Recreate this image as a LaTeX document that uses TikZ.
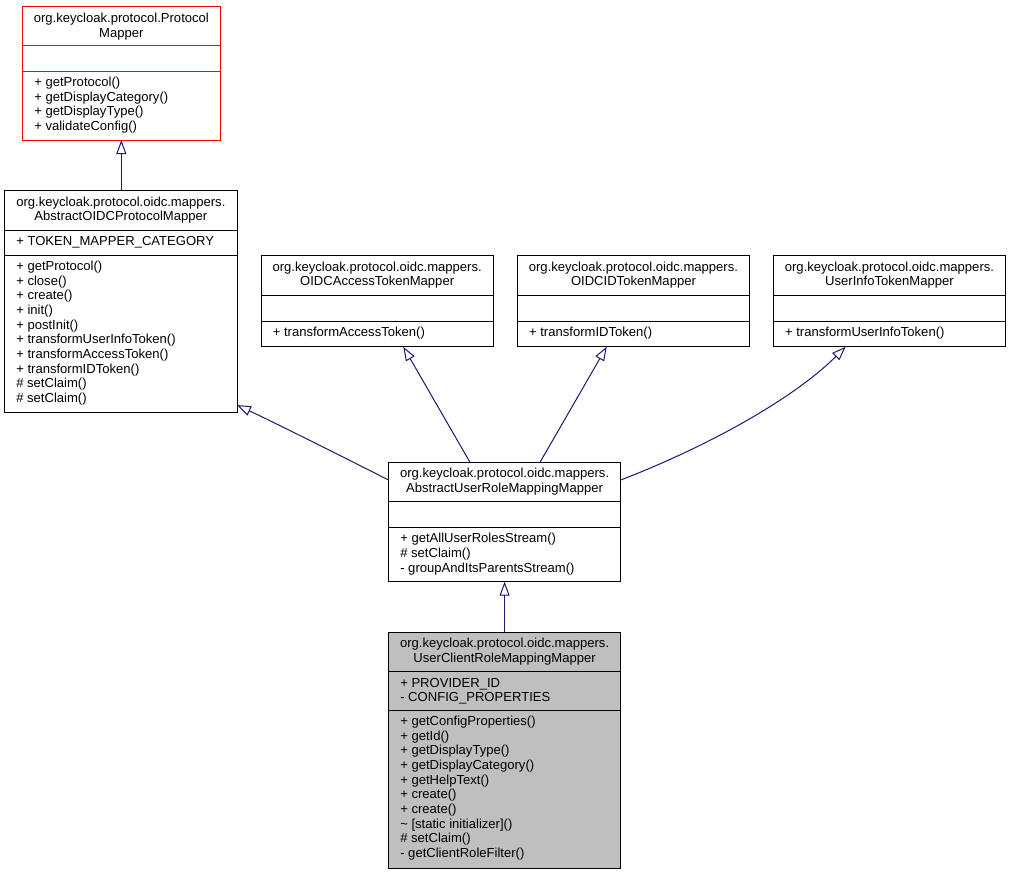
\documentclass[tikz,border=0pt]{standalone}
\usepackage{fontspec}
\setmainfont{Liberation Sans}
\usetikzlibrary{arrows.meta,calc}
\definecolor{edgeblue}{HTML}{191970}
\definecolor{boxgray}{HTML}{BFBFBF}
\definecolor{boxred}{HTML}{FF0000}
\begin{document}
\begin{tikzpicture}[x=0.75pt,y=-0.75pt,
  font=\fontsize{9.8pt}{11pt}\selectfont,
  cls/.style={draw=black, line width=0.75pt, anchor=north west, inner sep=0pt, outer sep=0pt},
  sepline/.style={draw=black, line width=0.75pt},
  ttl/.style={anchor=base, inner sep=0pt},
  mtxt/.style={anchor=base west, inner sep=0pt},
  edge/.style={draw=edgeblue, line width=0.75pt, -{Triangle[open, length=10.5pt, width=7.5pt]}}]
\useasboundingbox (0,0) rectangle (1011,875);

% ---------- ProtocolMapper ----------
\node[cls, draw=boxred, minimum width=149.03pt, minimum height=100.5pt] (b1) at (22,6) {};
\draw[sepline, draw=boxred] (b1.west |- 0,45.7) -- (b1.east |- 0,45.7);
\draw[sepline, draw=boxred] (b1.west |- 0,71) -- (b1.east |- 0,71);
\node[ttl] (b1t1) at (121.35,22) {org.keycloak.protocol.Protocol};
\node[ttl] (b1t2) at (121.35,37) {Mapper};
\foreach \lbl [count=\i] in {+ getProtocol(), + getDisplayCategory(), + getDisplayType(), + validateConfig()}
  \node[mtxt] (b1m\i) at (34,{86.5+14.7*(\i-1)}) {\lbl};

% ---------- AbstractOIDCProtocolMapper ----------
\node[cls, minimum width=174.23pt, minimum height=165.98pt] (b2) at (4.7,190.7) {};
\draw[sepline] (b2.west |- 0,230) -- (b2.east |- 0,230);
\draw[sepline] (b2.west |- 0,255) -- (b2.east |- 0,255);
\node[ttl] (b2t1) at (120.85,206) {org.keycloak.protocol.oidc.mappers.};
\node[ttl] (b2t2) at (120.85,220.7) {AbstractOIDCProtocolMapper};
\node[mtxt] (b2a1) at (16,245.3) {+ TOKEN\_MAPPER\_CATEGORY};
\foreach \lbl [count=\i] in {+ getProtocol(), + close(), + create(), + init(), + postInit(),
   + transformUserInfoToken(), + transformAccessToken(), + transformIDToken(), \# setClaim(), \# setClaim()}
  \node[mtxt] (b2m\i) at (16,{270.3+14.7*(\i-1)}) {\lbl};

% ---------- OIDCAccessTokenMapper ----------
\node[cls, minimum width=174.23pt, minimum height=68.25pt] (b5) at (261,255.7) {};
\draw[sepline] (b5.west |- 0,295.7) -- (b5.east |- 0,295.7);
\draw[sepline] (b5.west |- 0,321) -- (b5.east |- 0,321);
\node[ttl] (b5t1) at (377.15,271) {org.keycloak.protocol.oidc.mappers.};
\node[ttl] (b5t2) at (377.15,285.7) {OIDCAccessTokenMapper};
\node[mtxt] (b5m1) at (272.5,336.3) {+ transformAccessToken()};

% ---------- OIDCIDTokenMapper ----------
\node[cls, minimum width=174.23pt, minimum height=68.25pt] (b6) at (517.3,255.7) {};
\draw[sepline] (b6.west |- 0,295.7) -- (b6.east |- 0,295.7);
\draw[sepline] (b6.west |- 0,321) -- (b6.east |- 0,321);
\node[ttl] (b6t1) at (633.45,271) {org.keycloak.protocol.oidc.mappers.};
\node[ttl] (b6t2) at (633.45,285.7) {OIDCIDTokenMapper};
\node[mtxt] (b6m1) at (528.8,336.3) {+ transformIDToken()};

% ---------- UserInfoTokenMapper ----------
\node[cls, minimum width=174.23pt, minimum height=68.25pt] (b7) at (773.3,255.7) {};
\draw[sepline] (b7.west |- 0,295.7) -- (b7.east |- 0,295.7);
\draw[sepline] (b7.west |- 0,321) -- (b7.east |- 0,321);
\node[ttl] (b7t1) at (889.45,271) {org.keycloak.protocol.oidc.mappers.};
\node[ttl] (b7t2) at (889.45,285.7) {UserInfoTokenMapper};
\node[mtxt] (b7m1) at (784.8,336.3) {+ transformUserInfoToken()};

% ---------- AbstractUserRoleMappingMapper ----------
\node[cls, minimum width=174.15pt, minimum height=89.55pt] (b3) at (388.5,462.3) {};
\draw[sepline] (b3.west |- 0,501.7) -- (b3.east |- 0,501.7);
\draw[sepline] (b3.west |- 0,527.3) -- (b3.east |- 0,527.3);
\node[ttl] (b3t1) at (504.6,477.6) {org.keycloak.protocol.oidc.mappers.};
\node[ttl] (b3t2) at (504.6,492.3) {AbstractUserRoleMappingMapper};
\foreach \lbl [count=\i] in {+ getAllUserRolesStream(), \# setClaim(), - groupAndItsParentsStream()}
  \node[mtxt] (b3m\i) at (400,{542.6+14.7*(\i-1)}) {\lbl};

% ---------- UserClientRoleMappingMapper ----------
\node[cls, fill=boxgray, minimum width=174.15pt, minimum height=177pt] (b4) at (388.5,632.3) {};
\draw[sepline] (b4.west |- 0,671.7) -- (b4.east |- 0,671.7);
\draw[sepline] (b4.west |- 0,710) -- (b4.east |- 0,710);
\node[ttl] (b4t1) at (504.6,647.6) {org.keycloak.protocol.oidc.mappers.};
\node[ttl] (b4t2) at (504.6,662.3) {UserClientRoleMappingMapper};
\node[mtxt] (b4a1) at (400,687) {+ PROVIDER\_ID};
\node[mtxt] (b4a2) at (400,701.7) {- CONFIG\_PROPERTIES};
\foreach \lbl [count=\i] in {+ getConfigProperties(), + getId(), + getDisplayType(), + getDisplayCategory(),
   + getHelpText(), + create(), + create(), \textasciitilde{} [static initializer](), \# setClaim(), - getClientRoleFilter()}
  \node[mtxt] (b4m\i) at (400,{725.3+14.7*(\i-1)}) {\lbl};

% ---------- Inheritance edges ----------
\draw[edge] (b2.north -| b1.south) -- (b1.south);
\draw[edge] (b4.north) -- (b3.south);
\draw[edge] ($(b3.north west)+(81.5,0)$) -- ($(b5.south west)+(142.3,0)$);
\draw[edge] ($(b3.north west)+(151.5,0)$) -- ($(b6.south west)+(89.4,0)$);
\draw[edge] ($(b3.north west)+(0,17.7)$) .. controls +(-39.3,-20) and +(38.3,18) .. ($(b2.north east)+(0,214.3)$);
\draw[edge] ($(b3.north east)+(0,17.7)$) .. controls +(79.3,-30.5) and +(-55.7,55.3) .. ($(b7.south west)+(72.4,0)$);
\end{tikzpicture}
\end{document}
